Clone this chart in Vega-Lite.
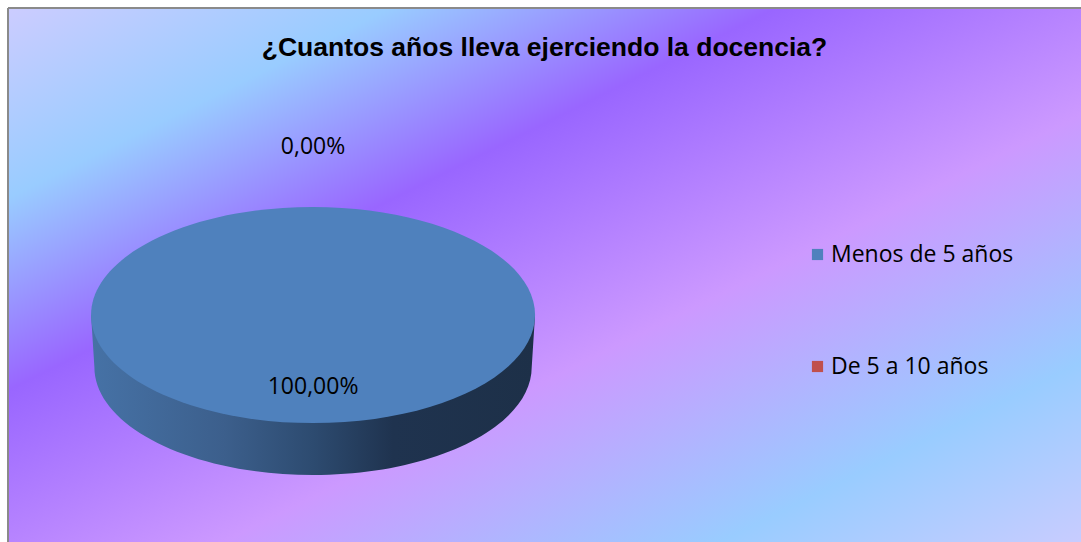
{
  "$schema": "https://vega.github.io/schema/vega-lite/v6.json",
  "width": 1073,
  "height": 534,
  "autosize": {"type": "none"},
  "padding": {"left": 8, "top": 8, "right": 0, "bottom": 0},
  "background": "white",
  "view": {"stroke": null},
  "config": {
    "view": {"stroke": null},
    "locale": {"number": {"decimal": ",", "thousands": ".", "grouping": [3], "currency": ["", " €"]}}
  },
  "title": {
    "text": "¿Cuantos años lleva ejerciendo la docencia?",
    "font": "Liberation Sans",
    "fontSize": 26.5,
    "fontWeight": "bold",
    "color": "black",
    "anchor": "middle",
    "frame": "group",
    "offset": -54
  },
  "data": {
    "values": [
      {"categoria": "Menos de 5 años", "proporcion": 1},
      {"categoria": "De 5 a 10 años", "proporcion": 0}
    ]
  },
  "layer": [
    {
      "data": {"values": [{}]},
      "mark": {
        "type": "rect",
        "stroke": "#8a8a8a",
        "strokeWidth": 2,
        "strokeDash": [1073, 1607, 534, 0],
        "fill": {
          "gradient": "linear",
          "x1": 0, "y1": 0, "x2": 1, "y2": 1,
          "stops": [
            {"offset": 0, "color": "#ccccff"},
            {"offset": 0.178, "color": "#99ccff"},
            {"offset": 0.358, "color": "#9966ff"},
            {"offset": 0.6, "color": "#cc99ff"},
            {"offset": 0.832, "color": "#99ccff"},
            {"offset": 1, "color": "#c8ccff"}
          ]
        }
      },
      "encoding": {}
    },
    {
      "mark": {
        "type": "point",
        "shape": "M -1 0 L -0.985 0.234 A 0.985 0.4865 0 0 0 0.985 0.234 L 1 0 Z",
        "filled": true,
        "opacity": 1,
        "strokeWidth": 0,
        "fill": {
          "gradient": "linear",
          "x1": 0, "y1": 0, "x2": 1, "y2": 0,
          "stops": [
            {"offset": 0, "color": "#4672a6"},
            {"offset": 0.3, "color": "#3c5f8c"},
            {"offset": 0.5, "color": "#2d4b70"},
            {"offset": 0.68, "color": "#1f334f"},
            {"offset": 1, "color": "#1d3048"}
          ]
        },
        "x": {"expr": "width * 0.2843"},
        "y": {"expr": "height * 0.5749"}
      },
      "encoding": {
        "size": {
          "field": "proporcion",
          "type": "quantitative",
          "scale": {"domain": [0, 1], "range": [0, 197136]},
          "legend": null
        }
      }
    },
    {
      "mark": {
        "type": "point",
        "shape": "M -1 0 A 1 0.4865 0 1 1 1 0 A 1 0.4865 0 1 1 -1 0 Z",
        "filled": true,
        "opacity": 1,
        "strokeWidth": 0,
        "x": {"expr": "width * 0.2843"},
        "y": {"expr": "height * 0.5749"}
      },
      "encoding": {
        "size": {
          "field": "proporcion",
          "type": "quantitative",
          "scale": {"domain": [0, 1], "range": [0, 197136]},
          "legend": null
        },
        "color": {
          "field": "categoria",
          "type": "nominal",
          "scale": {"domain": ["Menos de 5 años", "De 5 a 10 años"], "range": ["#4f81bd", "#c0504d"]},
          "legend": {
            "orient": "none",
            "legendX": 798,
            "legendY": 235,
            "direction": "vertical",
            "title": null,
            "symbolType": "square",
            "symbolSize": 125,
            "symbolStrokeWidth": 0,
            "symbolOpacity": 1,
            "labelFont": "Open Sans",
            "labelFontSize": 23,
            "labelColor": "black",
            "labelOffset": 2,
            "labelLimit": 400,
            "rowPadding": 88,
            "padding": 0
          }
        }
      }
    },
    {
      "transform": [{"filter": "datum.proporcion > 0"}],
      "mark": {
        "type": "text",
        "radius": 72,
        "font": "Open Sans",
        "fontSize": 23,
        "color": "black",
        "align": "center",
        "baseline": "middle",
        "x": {"expr": "width * 0.2843"},
        "y": {"expr": "height * 0.5749"}
      },
      "encoding": {
        "theta": {"field": "proporcion", "type": "quantitative", "stack": true},
        "text": {"field": "proporcion", "type": "quantitative", "format": ".2%"}
      }
    },
    {
      "transform": [{"filter": "datum.proporcion == 0"}],
      "mark": {
        "type": "text",
        "radius": 168,
        "font": "Open Sans",
        "fontSize": 23,
        "color": "black",
        "align": "center",
        "baseline": "middle",
        "x": {"expr": "width * 0.2843"},
        "y": {"expr": "height * 0.5749"}
      },
      "encoding": {
        "theta": {"field": "proporcion", "type": "quantitative", "stack": true},
        "text": {"field": "proporcion", "type": "quantitative", "format": ".2%"}
      }
    }
  ]
}
